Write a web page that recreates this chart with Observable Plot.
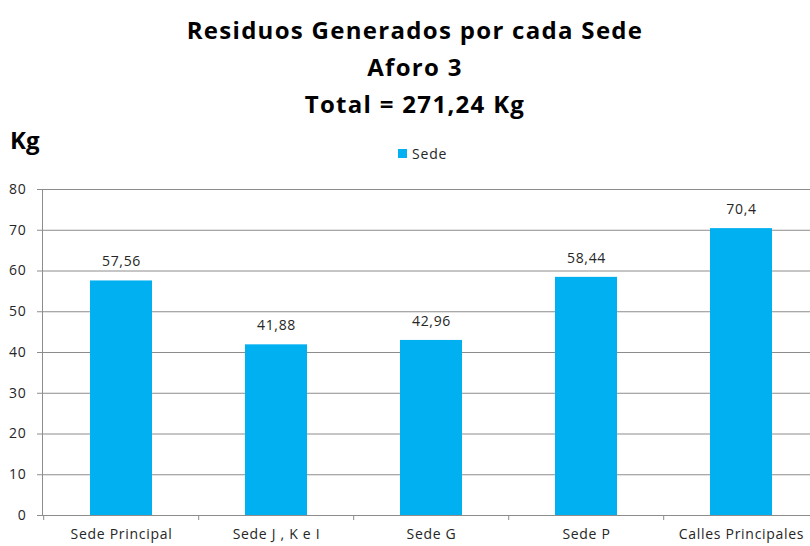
<!DOCTYPE html>
<html>
<head>
<meta charset="utf-8">
<script src="https://cdn.jsdelivr.net/npm/d3@7"></script>
<script src="https://cdn.jsdelivr.net/npm/@observablehq/plot@0.6"></script>
<style>
  html, body { margin: 0; padding: 0; background: #fff; overflow: hidden; }
  #wrap { position: relative; width: 810px; height: 546px; font-family: "Open Sans", Lato, sans-serif; }
  #head { position: relative; width: 810px; height: 175px; }
  #title { position: absolute; left: 0; top: 11px; width: 830px; text-align: center; font-weight: bold; font-size: 24px; line-height: 37px; letter-spacing: 1.3px; color: #000; }
  #kg { position: absolute; left: 10px; top: 123px; font-weight: bold; font-size: 24px; color: #000; }
  #legend { position: absolute; left: 398px; top: 144px; font-size: 14px; letter-spacing: 0.8px; color: #262626; display: flex; align-items: center; }
  #legend span.sw { display: inline-block; width: 9px; height: 9px; background: #00B0F0; margin-right: 5px; }
  #chart svg { display: block; overflow: visible; }
</style>
</head>
<body>
<div id="wrap">
  <div id="head">
    <div id="title"></div>
    <div id="kg"></div>
    <div id="legend"><span class="sw"></span><span id="legtxt"></span></div>
  </div>
  <div id="chart"></div>
</div>
<script>
const titleLines = ["Residuos Generados por cada Sede", "Aforo 3", "Total = 271,24 Kg"];
const yLabel = "Kg";
const seriesName = "Sede";
const categories = ["Sede Principal", "Sede J , K e I", "Sede G", "Sede P", "Calles Principales"];
const values = [57.56, 41.88, 42.96, 58.44, 70.4];
const yTicks = [0, 10, 20, 30, 40, 50, 60, 70, 80];

document.getElementById("title").innerHTML = titleLines.join("<br>");
document.getElementById("kg").textContent = yLabel;
document.getElementById("legtxt").textContent = seriesName;

const data = categories.map((c, i) => ({cat: c, val: values[i]}));
const fmt = v => String(v).replace(".", ",");

const W = 810, H = 371;
const xRange = [42, 820];
const step = (xRange[1] - xRange[0]) / (categories.length);

const chart = Plot.plot({
  width: W,
  height: H,
  marginLeft: 42,
  marginRight: 0,
  marginTop: 14,
  marginBottom: 31,
  style: {fontFamily: "'Open Sans', Lato, sans-serif", color: "#262626", background: "#fff", letterSpacing: "0.7px"},
  x: {domain: categories, range: xRange, paddingInner: 0.6, paddingOuter: 0.3, label: null},
  y: {domain: [0, 80], label: null},
  marks: [
    Plot.ruleY(yTicks, {stroke: "#8c8c8c", strokeWidth: 1}),
    Plot.frame({anchor: "left", stroke: "#8c8c8c"}),
    Plot.ruleX(categories, {x: d => d, dx: -step / 2, y1: 0, y2: 0, insetBottom: -5, stroke: "#8c8c8c"}),
    Plot.barY(data, {x: "cat", y: "val", fill: "#00B0F0"}),
    Plot.text(data, {x: "cat", y: "val", text: d => fmt(d.val), dy: -19, fontSize: 14, fill: "#262626"}),
    Plot.axisY({ticks: yTicks, tickSize: 5, tickPadding: 11, fontSize: 14, stroke: "#8c8c8c", fill: "#262626", label: null}),
    Plot.axisX({tickSize: 0, tickPadding: 14, fontSize: 14, fill: "#262626", label: null})
  ]
});
document.getElementById("chart").appendChild(chart);
</script>
</body>
</html>
